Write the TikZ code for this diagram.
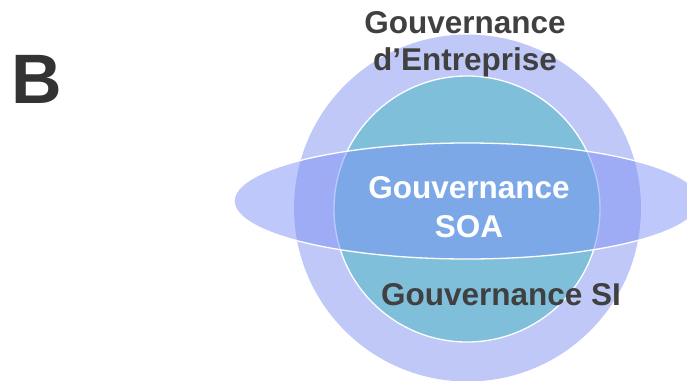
\documentclass[tikz,border=0pt]{standalone}
\usepackage{fontspec}
\setmainfont{Liberation Sans}
\definecolor{outerc}{HTML}{C0C8F8}
\definecolor{tealc}{HTML}{7FBFDA}
\definecolor{ellc}{RGB}{125,146,245}
\definecolor{darktxt}{HTML}{404040}
\definecolor{btxt}{HTML}{333333}
\tikzset{
  lbl/.style={inner sep=0pt, font=\bfseries\fontsize{31.5}{37}\selectfont, text=darktxt, align=center, anchor=base},
}
\begin{document}
\begin{tikzpicture}[x=1pt,y=-1pt]
\useasboundingbox (0,0) rectangle (687,380);
\fill[outerc] (467.5,208) circle[radius=173.5];
\path[fill=tealc, draw=white, line width=1.3pt] (467,209) circle[radius=133];
\path[fill=ellc, fill opacity=0.5, draw=white, line width=1.3pt] (467,201) ellipse[x radius=233, y radius=58];
\node[lbl] (ent) at (465,70) {Gouvernance\\d’Entreprise};
\node[lbl, text=white, font=\bfseries\fontsize{31.5}{39}\selectfont] (soa) at (469,237) {Gouvernance\\SOA};
\node[lbl] (si) at (501,305) {Gouvernance SI};
\node[inner sep=0pt, anchor=base, text=btxt, font=\bfseries\fontsize{70}{80}\selectfont] (b) at (37,103) {B};
\end{tikzpicture}
\end{document}
